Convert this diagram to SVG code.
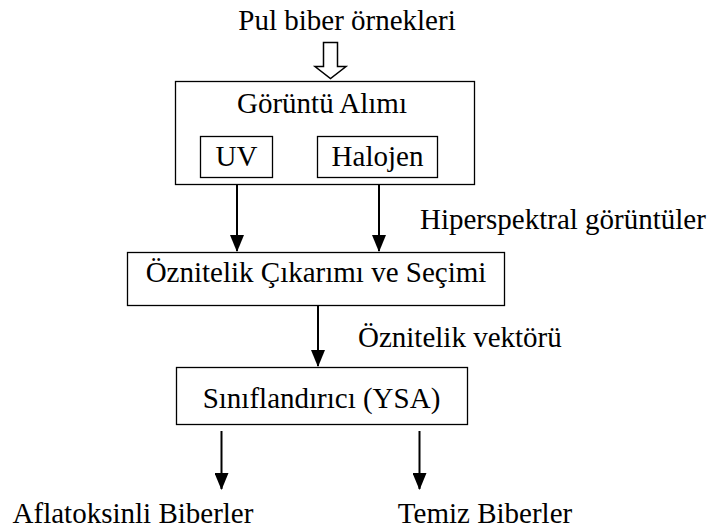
<svg xmlns="http://www.w3.org/2000/svg" width="710" height="531" viewBox="0 0 710 531">
<defs>
<marker id="ah" markerUnits="userSpaceOnUse" markerWidth="17" markerHeight="14" refX="16" refY="7" orient="auto" viewBox="0 0 17 14">
<path d="M0,0 L17,7 L0,14 Z" fill="#000"/>
</marker>
</defs>
<style>
text{font-family:'Liberation Serif','Tinos','Times New Roman','DejaVu Serif',serif;font-size:29px;fill:#000}
.b{fill:#fff;stroke:#000;stroke-width:1.3}
.c{stroke:#000;stroke-width:2;fill:none}
</style>
<rect width="710" height="531" fill="#fff"/>
<text x="347" y="30" text-anchor="middle" font-family="Liberation Serif, serif">Pul biber örnekleri</text>
<g id="acquisition">
<rect class="b" x="175.5" y="81.5" width="299" height="103"/>
<text x="322" y="113" text-anchor="middle">Görüntü Alımı</text>
<g id="uv">
<rect class="b" x="200.5" y="136.5" width="72" height="41"/>
<text x="236.5" y="166" text-anchor="middle">UV</text>
</g>
<g id="halojen">
<rect class="b" x="317.5" y="136.5" width="120" height="41"/>
<text x="377.5" y="166" text-anchor="middle">Halojen</text>
</g>
</g>
<g id="features">
<rect class="b" x="127.5" y="252.5" width="377" height="53"/>
<text x="316" y="282" text-anchor="middle">Öznitelik Çıkarımı ve Seçimi</text>
</g>
<g id="classifier">
<rect class="b" x="176.5" y="367.5" width="291" height="57"/>
<text x="321.5" y="408" text-anchor="middle">Sınıflandırıcı (YSA)</text>
</g>
<g id="out1"><text x="133" y="523" text-anchor="middle">Aflatoksinli Biberler</text></g>
<g id="out2"><text x="485" y="523" text-anchor="middle">Temiz Biberler</text></g>
<g id="connectors">
<path d="M323.5,42.5 H337.5 V66.5 H346 L330.5,78.5 L315,66.5 H323.5 Z" fill="#fff" stroke="#000" stroke-width="1.5"/>
<line class="c" x1="237" y1="185" x2="237" y2="251" marker-end="url(#ah)"/>
<line class="c" x1="379" y1="185" x2="379" y2="251" marker-end="url(#ah)"/>
<line class="c" x1="318" y1="306" x2="318" y2="366" marker-end="url(#ah)"/>
<line class="c" x1="221.5" y1="431" x2="221.5" y2="489" marker-end="url(#ah)"/>
<line class="c" x1="419.5" y1="431" x2="419.5" y2="489" marker-end="url(#ah)"/>
<text x="420" y="229">Hiperspektral görüntüler</text>
<text x="358" y="347">Öznitelik vektörü</text>
</g>
</svg>
